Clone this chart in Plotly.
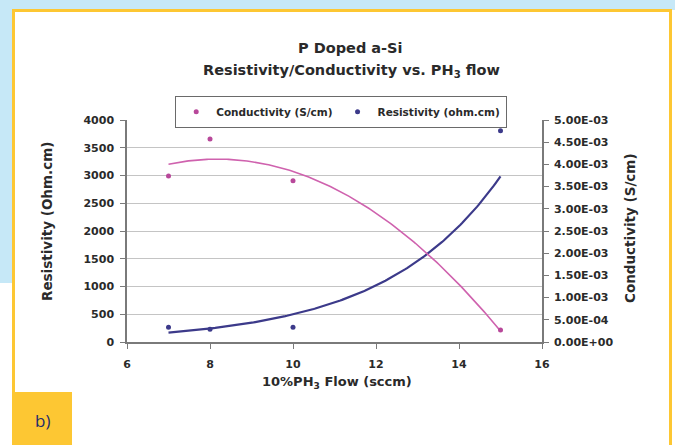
import numpy as np
import plotly.graph_objects as go

# ---- data ----
flow = [7, 8, 10, 15]                                   # 10%PH3 flow (sccm)
conductivity = [3.74e-3, 4.57e-3, 3.63e-3, 2.7e-4]      # S/cm
resistivity = [265, 229, 265, 3807]                     # ohm.cm

left_ticks = [0, 500, 1000, 1500, 2000, 2500, 3000, 3500, 4000]
right_ticks = [0, 5e-4, 1e-3, 1.5e-3, 2e-3, 2.5e-3, 3e-3, 3.5e-3, 4e-3, 4.5e-3, 5e-3]
x_ticks = [6, 8, 10, 12, 14, 16]

# trendlines (Excel style: polynomial order 2 for conductivity, exponential for resistivity)
xf = np.linspace(min(flow), max(flow), 200)
pc = np.polyfit(flow, conductivity, 2)
cond_fit = np.polyval(pc, xf)
pr = np.polyfit(flow, np.log(resistivity), 1)
res_fit = np.exp(np.polyval(pr, xf))

PINK = "#cf62ae"
PINK_M = "#b8489a"
BLUE = "#3c3a8a"
W, H = 675, 445
L, R, T, B = 127, 542, 120, 342


def px(x):
    return (x - L) / (R - L)


def py(y):
    return (B - y) / (B - T)


fig = go.Figure()
fig.add_trace(go.Scatter(x=xf, y=cond_fit, mode="lines", line=dict(color=PINK, width=1.6),
                         yaxis="y2", showlegend=False, hoverinfo="skip"))
fig.add_trace(go.Scatter(x=xf, y=res_fit, mode="lines", line=dict(color=BLUE, width=2.2),
                         showlegend=False, hoverinfo="skip"))
fig.add_trace(go.Scatter(x=flow, y=conductivity, mode="markers", name="<b>Conductivity (S/cm)</b>",
                         marker=dict(color=PINK_M, size=5, symbol="circle"), yaxis="y2"))
fig.add_trace(go.Scatter(x=flow, y=resistivity, mode="markers", name="<b>Resistivity (ohm.cm)</b>",
                         marker=dict(color=BLUE, size=5, symbol="circle")))

FONT = "DejaVu Sans, Liberation Sans, Arial, sans-serif"
TXT = "#2a2a2a"
tickfont = dict(family=FONT, size=11, color=TXT, weight="bold")

YEL = "#fdc733"
shapes = [
    # light blue backdrop strips
    dict(type="rect", xref="paper", yref="paper", x0=px(0), x1=px(W), y0=py(0), y1=py(10),
         fillcolor="#c6e8f7", line=dict(width=0), layer="below"),
    dict(type="rect", xref="paper", yref="paper", x0=px(0), x1=px(12), y0=py(0), y1=py(283),
         fillcolor="#c6e8f7", line=dict(width=0), layer="below"),
    # yellow frame
    dict(type="line", xref="paper", yref="paper", x0=px(12), x1=px(672), y0=py(10.5), y1=py(10.5),
         line=dict(color=YEL, width=3)),
    dict(type="line", xref="paper", yref="paper", x0=px(13.5), x1=px(13.5), y0=py(9), y1=py(445),
         line=dict(color=YEL, width=3)),
    dict(type="line", xref="paper", yref="paper", x0=px(670.5), x1=px(670.5), y0=py(9), y1=py(445),
         line=dict(color=YEL, width=3)),
    # label box
    dict(type="rect", xref="paper", yref="paper", x0=px(12), x1=px(72), y0=py(392), y1=py(445),
         fillcolor=YEL, line=dict(width=0)),
]


def note(text, x, y, size, angle=0, family=FONT, color=TXT):
    return dict(text=text, x=px(x), y=py(y), xref="paper", yref="paper", showarrow=False,
                xanchor="center", yanchor="middle", textangle=angle,
                font=dict(family=family, size=size, color=color))


ann = [
    note("<b>P Doped a-Si</b>", 350, 48, 14.5),
    note("<b>Resistivity/Conductivity vs. PH<sub>3</sub> flow</b>", 351, 71, 14.5),
    note("<b>Resistivity (Ohm.cm)</b>", 47, 222, 13.5, angle=-90),
    note("<b>Conductivity (S/cm)</b>", 630, 228, 13.5, angle=-90),
    note("<b>10%PH<sub>3</sub> Flow (sccm)</b>", 337, 382, 13),
    note("b)", 42, 420, 17, family="Open Sans, sans-serif", color="#1f2d6b"),
]

fig.update_layout(
    width=W, height=H,
    margin=dict(l=L, r=W - R, t=T, b=H - B, pad=0),
    paper_bgcolor="white", plot_bgcolor="white",
    shapes=shapes, annotations=ann,
    xaxis=dict(range=[6, 16], tickvals=x_ticks, ticktext=[str(v) for v in x_ticks],
               showgrid=False, zeroline=False, showline=True, linecolor="#7a7a7a", linewidth=1.5,
               ticks="outside", ticklen=5, tickcolor="#7a7a7a", tickfont=tickfont,
               ticklabelstandoff=6),
    yaxis=dict(range=[0, 4000], tickvals=left_ticks, ticktext=[str(v) for v in left_ticks],
               showgrid=True, gridcolor="#c4c4c4", gridwidth=1.2, zeroline=False,
               showline=True, linecolor="#7a7a7a", linewidth=1.5, ticks="outside", ticklen=5,
               tickcolor="#7a7a7a", tickfont=tickfont, ticklabelstandoff=4),
    yaxis2=dict(range=[0, 5e-3], overlaying="y", side="right", tickvals=right_ticks,
                ticktext=[f"{v:.2E}" for v in right_ticks], showgrid=False, zeroline=False,
                showline=True, linecolor="#7a7a7a", linewidth=1.5, ticks="outside", ticklen=5,
                tickcolor="#7a7a7a", tickfont=tickfont, ticklabelstandoff=3),
    legend=dict(orientation="h", x=px(175), y=py(96), xanchor="left", yanchor="top",
                bgcolor="white", bordercolor="#6a6a6a", borderwidth=1.2,
                font=dict(family=FONT, size=10.5, color=TXT),
                itemwidth=30, tracegroupgap=0),
    showlegend=True,
)

fig.write_html("out.html")
